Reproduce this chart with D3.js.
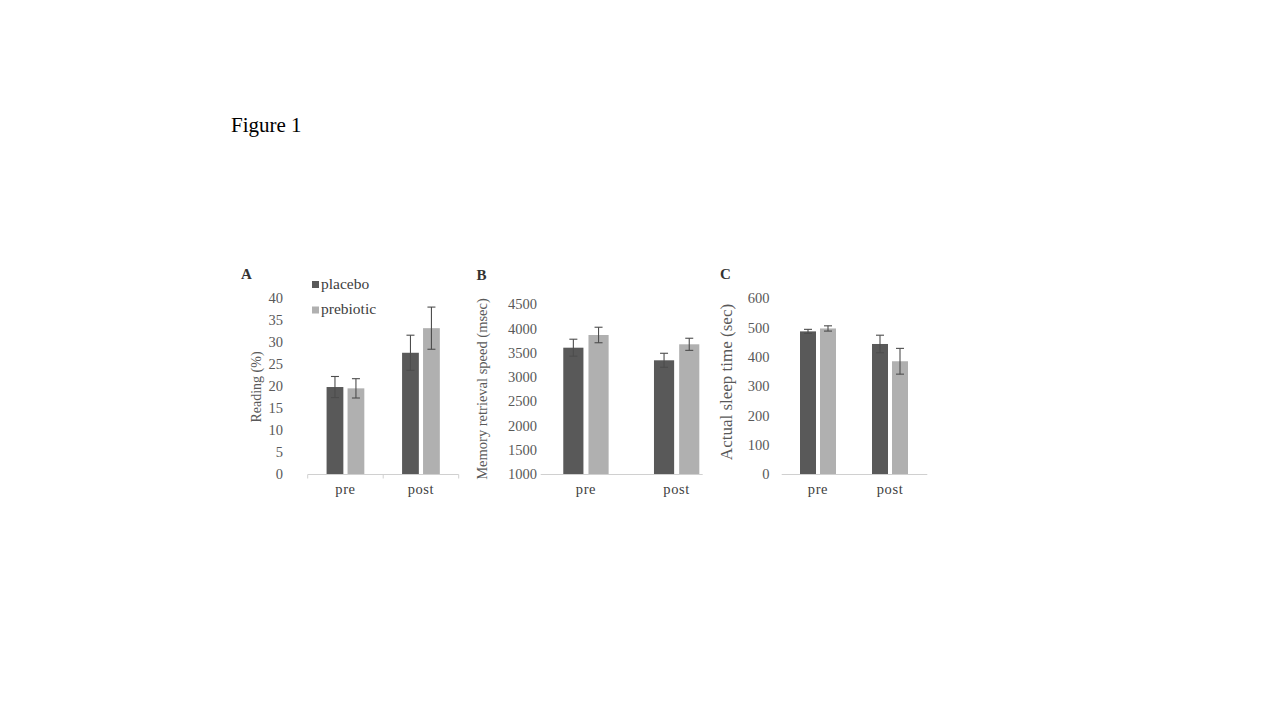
<!DOCTYPE html>
<html>
<head>
<meta charset="utf-8">
<script src="https://cdn.jsdelivr.net/npm/d3@7"></script>
<style>
  body { margin: 0; background: #fff; }
  svg { display: block; }
  text { font-family: "Liberation Serif", "Times New Roman", serif; }
</style>
</head>
<body>
<div id="figure"></div>
<script>
// Data
const categories = ["pre", "post"];
const groups = ["placebo", "prebiotic"];

const readingPlacebo = [19.8, 27.6];
const readingPlaceboErr = [2.4, 4.0];
const readingPrebiotic = [19.5, 33.2];
const readingPrebioticErr = [2.2, 4.8];

const memoryPlacebo = [3605, 3345];
const memoryPlaceboErr = [175, 145];
const memoryPrebiotic = [3867, 3675];
const memoryPrebioticErr = [160, 125];

const sleepPlacebo = [487, 444];
const sleepPlaceboErr = [7, 30];
const sleepPrebiotic = [497, 385];
const sleepPrebioticErr = [9, 44];

const readingTicks = [0, 5, 10, 15, 20, 25, 30, 35, 40];
const memoryTicks = [1000, 1500, 2000, 2500, 3000, 3500, 4000, 4500];
const sleepTicks = [0, 100, 200, 300, 400, 500, 600];

const colors = { placebo: "#595959", prebiotic: "#b0b0b0" };

const svg = d3.select("#figure").append("svg")
    .attr("width", 1280)
    .attr("height", 720);

// Title
svg.append("text")
    .attr("x", 231)
    .attr("y", 132)
    .attr("font-size", 21)
    .attr("fill", "#000")
    .text("Figure 1");

// Panel layout (positions only, values come from the arrays above)
const panels = [
  {
    letter: "A", letterX: 241, letterY: 279,
    label: "Reading (%)", labelX: 256, labelY: 387, labelSize: 14,
    ticks: readingTicks, yRange: [474, 298.3],
    xRange: [307.7, 458.7], axis: [307.7, 458.7], axisTicks: true,
    tickX: 283,
    means: { placebo: readingPlacebo, prebiotic: readingPrebiotic },
    errs: { placebo: readingPlaceboErr, prebiotic: readingPrebioticErr },
    legend: true
  },
  {
    letter: "B", letterX: 476.5, letterY: 280,
    label: "Memory retrieval speed (msec)", labelX: 482, labelY: 389, labelSize: 14.5,
    ticks: memoryTicks, yRange: [474, 304.3],
    xRange: [540.6, 722], axis: [540.7, 702.7], axisTicks: false,
    tickX: 537,
    means: { placebo: memoryPlacebo, prebiotic: memoryPrebiotic },
    errs: { placebo: memoryPlaceboErr, prebiotic: memoryPrebioticErr }
  },
  {
    letter: "C", letterX: 720, letterY: 279,
    label: "Actual sleep time (sec)", labelX: 726, labelY: 382, labelSize: 17,
    ticks: sleepTicks, yRange: [474, 298.3],
    xRange: [782, 926], axis: [781.7, 927.3], axisTicks: false,
    tickX: 769.5,
    means: { placebo: sleepPlacebo, prebiotic: sleepPrebiotic },
    errs: { placebo: sleepPlaceboErr, prebiotic: sleepPrebioticErr }
  }
];

panels.forEach(function(p) {
  const g = svg.append("g");

  const y = d3.scaleLinear()
      .domain(d3.extent(p.ticks))
      .range(p.yRange);

  const x0 = d3.scaleBand()
      .domain(categories)
      .range(p.xRange)
      .paddingInner(0.5)
      .paddingOuter(0.25);

  const x1 = d3.scaleBand()
      .domain(groups)
      .range([0, x0.bandwidth()])
      .paddingInner(0.2);

  // Y tick labels (no axis line in the original)
  g.selectAll(".ytick")
      .data(p.ticks)
      .enter().append("text")
      .attr("x", p.tickX)
      .attr("y", function(d) { return y(d); })
      .attr("dy", "0.35em")
      .attr("text-anchor", "end")
      .attr("font-size", 14.5)
      .attr("fill", "#595959")
      .text(function(d) { return d; });

  // Bars
  const rows = [];
  categories.forEach(function(c, i) {
    groups.forEach(function(s) {
      rows.push({ cat: c, group: s, value: p.means[s][i], err: p.errs[s][i] });
    });
  });

  const base = y.domain()[0];

  g.selectAll(".bar")
      .data(rows)
      .enter().append("rect")
      .attr("x", function(d) { return x0(d.cat) + x1(d.group); })
      .attr("width", x1.bandwidth())
      .attr("y", function(d) { return y(d.value); })
      .attr("height", function(d) { return y(base) - y(d.value); })
      .attr("fill", function(d) { return colors[d.group]; });

  // Error bars
  const cap = 4;
  const err = g.selectAll(".err")
      .data(rows)
      .enter().append("g")
      .attr("stroke", "#4d4d4d")
      .attr("stroke-width", 1.1);

  err.append("line")
      .attr("x1", function(d) { return x0(d.cat) + x1(d.group) + x1.bandwidth() / 2; })
      .attr("x2", function(d) { return x0(d.cat) + x1(d.group) + x1.bandwidth() / 2; })
      .attr("y1", function(d) { return y(d.value - d.err); })
      .attr("y2", function(d) { return y(d.value + d.err); });

  [1, -1].forEach(function(sign) {
    err.append("line")
        .attr("x1", function(d) { return x0(d.cat) + x1(d.group) + x1.bandwidth() / 2 - cap; })
        .attr("x2", function(d) { return x0(d.cat) + x1(d.group) + x1.bandwidth() / 2 + cap; })
        .attr("y1", function(d) { return y(d.value + sign * d.err); })
        .attr("y2", function(d) { return y(d.value + sign * d.err); });
  });

  // Baseline
  const axisY = y(base) + 0.5;
  g.append("line")
      .attr("x1", p.axis[0])
      .attr("x2", p.axis[1])
      .attr("y1", axisY)
      .attr("y2", axisY)
      .attr("stroke", "#d0d0d0")
      .attr("stroke-width", 1);

  if (p.axisTicks) {
    const edges = [p.axis[0], (p.axis[0] + p.axis[1]) / 2, p.axis[1]];
    g.selectAll(".xtick")
        .data(edges)
        .enter().append("line")
        .attr("x1", function(d) { return d; })
        .attr("x2", function(d) { return d; })
        .attr("y1", axisY)
        .attr("y2", axisY + 4)
        .attr("stroke", "#d0d0d0");
  }

  // Category labels
  g.selectAll(".xlabel")
      .data(categories)
      .enter().append("text")
      .attr("x", function(d) { return x0(d) + x0.bandwidth() / 2; })
      .attr("y", 494)
      .attr("text-anchor", "middle")
      .attr("font-size", 14.5)
      .attr("letter-spacing", 0.6)
      .attr("fill", "#404040")
      .text(function(d) { return d; });

  // Y label
  g.append("text")
      .attr("transform", "translate(" + p.labelX + "," + p.labelY + ") rotate(-90)")
      .attr("text-anchor", "middle")
      .attr("dy", "0.35em")
      .attr("font-size", p.labelSize)
      .attr("fill", "#595959")
      .text(p.label);

  // Panel letter
  g.append("text")
      .attr("x", p.letterX)
      .attr("y", p.letterY)
      .attr("font-size", 15)
      .attr("font-weight", "bold")
      .attr("fill", "#333")
      .text(p.letter);

  // Legend
  if (p.legend) {
    const leg = g.selectAll(".legend")
        .data(groups)
        .enter().append("g")
        .attr("transform", function(d, i) { return "translate(312," + (281 + i * 25.5) + ")"; });

    leg.append("rect")
        .attr("width", 7)
        .attr("height", 7)
        .attr("fill", function(d) { return colors[d]; });

    leg.append("text")
        .attr("x", 9)
        .attr("y", 7.5)
        .attr("font-size", 15.5)
        .attr("fill", "#404040")
        .text(function(d) { return d; });
  }
});
</script>
</body>
</html>
